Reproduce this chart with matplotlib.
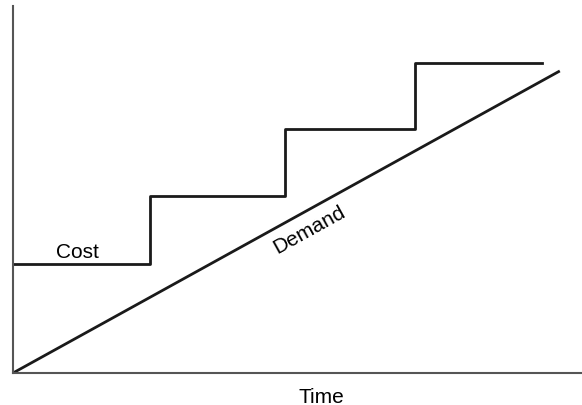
import numpy as np
import matplotlib.pyplot as plt

plt.rcParams['font.family'] = ['Liberation Sans', 'DejaVu Sans']

# --- Dados (unidades arbitrárias 0-100) ---
cost_x = [0, 24.1, 24.1, 47.8, 47.8, 70.7, 70.7, 93.0]
cost_y = [29.7, 29.7, 48.2, 48.2, 66.5, 66.5, 84.5, 84.5]
demand_x = [0, 96.1]
demand_y = [0, 82.3]

fig = plt.figure(figsize=(5.82, 4.06), dpi=100)
ax = fig.add_axes([13 / 582, 32 / 406, 569 / 582, 367 / 406])

ax.plot(cost_x, cost_y, color='#1a1a1a', lw=2)
ax.plot(demand_x, demand_y, color='#1a1a1a', lw=2, solid_capstyle='butt')

ax.text(11.25, 31.6, 'Cost', fontsize=15, ha='center', va='baseline')
ax.text(52.0, 39.2, 'Demand', fontsize=15, ha='center', va='center',
        rotation=29, rotation_mode='anchor')

ax.set_xlim(0, 100)
ax.set_ylim(0, 100)
ax.set_xticks([])
ax.set_yticks([])
for s in ['top', 'right']:
    ax.spines[s].set_visible(False)
for s in ['left', 'bottom']:
    ax.spines[s].set_color('#555555')
    ax.spines[s].set_linewidth(1.5)

# rótulo do eixo x (posição tirada da figura)
fig.text(321 / 582, 1 - 403 / 406, 'Time', fontsize=15, ha='center', va='baseline')

fig.savefig('out.png', dpi=100)
